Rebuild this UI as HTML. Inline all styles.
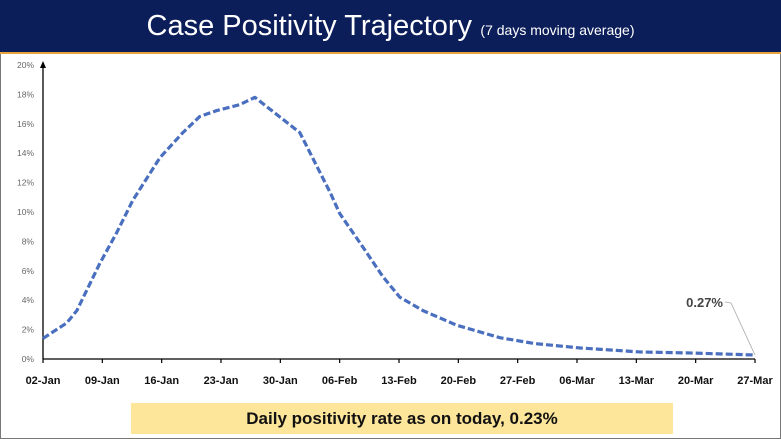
<!DOCTYPE html>
<html><head><meta charset="utf-8"><style>
body{margin:0;width:781px;height:439px;overflow:hidden;background:#fff;font-family:"Liberation Sans",sans-serif}
#frame{position:absolute;left:0;top:0;width:779px;height:437px;border:1px solid #777}
#hdr{position:absolute;left:0;top:0;width:781px;height:52px;background:#0c1e5a;border-bottom:2px solid #e8a33c;color:#fff;text-align:center}
#hdr .t{font-size:29px;line-height:52px}
#hdr .s{font-size:14px}
#banner{position:absolute;left:131px;top:403px;width:542px;height:31px;background:#fde59a;text-align:center;font:bold 17px/31px "Liberation Sans",sans-serif;color:#111}
</style></head><body>
<div id="frame"></div>
<div id="hdr"><span class="t">Case Positivity Trajectory</span> <span class="s">&nbsp;(7 days moving average)</span></div>
<svg id="chart" width="781" height="439" style="position:absolute;left:0;top:0"></svg>
<div id="banner">Daily positivity rate as on today, 0.23%</div>
<script>
const days=[0,2.8,4,6.7,8.7,10.6,13.8,16.5,18.5,20.5,23.2,25,30.3,33.9,35,37.4,40.1,42.1,44.8,48.8,53.9,58,63.4,70.4,77,84];
const values=[1.4,2.45,3.3,6.5,8.6,10.8,13.7,15.4,16.5,16.9,17.3,17.8,15.4,11.3,9.9,7.9,5.6,4.2,3.3,2.3,1.45,1.05,0.75,0.48,0.4,0.27];
const yTicks=[0,2,4,6,8,10,12,14,16,18,20];
const xTickLabels=["02-Jan","09-Jan","16-Jan","23-Jan","30-Jan","06-Feb","13-Feb","20-Feb","27-Feb","06-Mar","13-Mar","20-Mar","27-Mar"];
const NS="http://www.w3.org/2000/svg",svg=document.getElementById('chart');
const x0=43,x1=755,y0=359,y1=65;
const X=d=>x0+d*(x1-x0)/84, Y=v=>y0-v*(y0-y1)/20;
function mk(t,a,txt){const e=document.createElementNS(NS,t);for(const k in a)e.setAttribute(k,a[k]);if(txt!=null)e.textContent=txt;svg.appendChild(e);return e;}
let e=mk('line',{x1:x0,y1:y0,x2:x0,y2:y1-2,stroke:'#000','stroke-width':1.3});

e=mk('path',{d:`M${x0-3} ${y1+3}L${x0} ${y1-4}L${x0+3} ${y1+3}Z`,fill:'#000'});

e=mk('line',{x1:x0,y1:y0,x2:x1,y2:y0,stroke:'#000','stroke-width':1.3});

yTicks.forEach(v=>{const t=mk('text',{x:34,y:Y(v)+3,'text-anchor':'end','font-size':8.5,fill:'#666'},v+'%');
});
xTickLabels.forEach((l,i)=>{const d=i*7;
const tk=mk('line',{x1:X(d),y1:y0,x2:X(d),y2:y0+4,stroke:'#000','stroke-width':1.2});

const t=mk('text',{x:X(d),y:384,'text-anchor':'middle','font-size':11,'font-weight':'bold',fill:'#111'},l);
});
const line=mk('polyline',{points:days.map((d,i)=>X(d)+','+Y(values[i])).join(' '),fill:'none',stroke:'#4a6fbf','stroke-width':3.2,'stroke-dasharray':'7,3','stroke-linejoin':'round'});

const lx=X(days[days.length-1]),ly=Y(values[values.length-1]);
e=mk('polyline',{points:`${lx},${ly} 731,303 725,302`,fill:'none',stroke:'#aaa','stroke-width':0.8});

e=mk('text',{x:723,y:307,'text-anchor':'end','font-size':13,'font-weight':'bold',fill:'#444'},values[values.length-1]+'%');

</script>
</body></html>
